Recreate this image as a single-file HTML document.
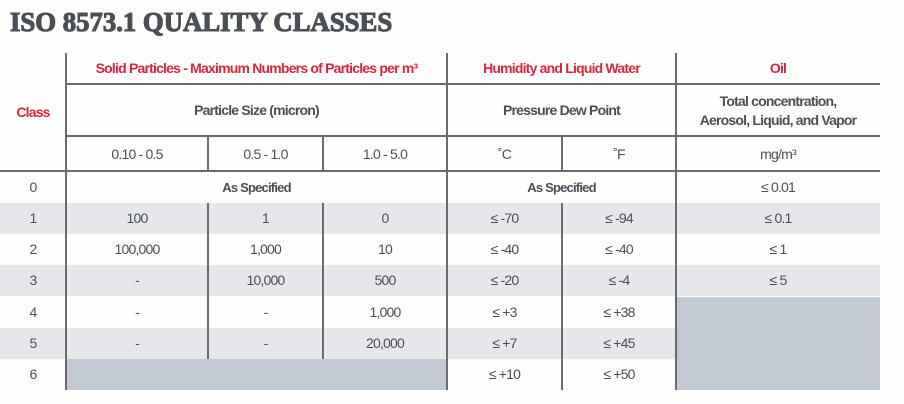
<!DOCTYPE html>
<html><head><style>
body{margin:0;width:904px;height:404px;background:#fdfdfc;position:relative;overflow:hidden;font-family:"Liberation Sans",sans-serif;color:#4a4f57}
.t{position:absolute;left:10px;top:7px;font-family:"Liberation Serif",serif;font-weight:900;font-size:27px;color:#4a4f55;letter-spacing:0px;transform:scaleX(0.99);transform-origin:left;-webkit-text-stroke:1.1px #4a4f55}
.r{position:absolute;left:0;width:880px;height:31px;background:#e6e7ea}
.f{position:absolute;background:#c3c9d2}
.v{position:absolute;width:2px;background:#6b6b6b}
.h{position:absolute;height:2px;background:#6b6b6b}
.c{position:absolute;text-align:center;font-size:14px;letter-spacing:-0.8px;display:flex;align-items:center;justify-content:center;line-height:19px}
.b{font-weight:bold}
.red{color:#d7263d;font-weight:bold}
</style></head><body>
<div class="t">ISO 8573.1 QUALITY CLASSES</div>
<div class="r" style="top:203px"></div>
<div class="r" style="top:265px"></div>
<div class="r" style="top:328px"></div>
<div class="f" style="left:66px;top:359px;width:381px;height:31px"></div>
<div class="f" style="left:676px;top:297px;width:204px;height:93px"></div>
<div class="h" style="left:66px;top:83px;width:814px"></div>
<div class="h" style="left:66px;top:135px;width:814px"></div>
<div class="h" style="left:0;top:170px;width:880px"></div>
<div class="v" style="left:65px;top:53px;height:337px"></div>
<div class="v" style="left:446px;top:53px;height:337px"></div>
<div class="v" style="left:675px;top:53px;height:337px"></div>
<div class="v" style="left:207px;top:136px;height:35px"></div>
<div class="v" style="left:322px;top:136px;height:35px"></div>
<div class="v" style="left:561px;top:136px;height:35px"></div>
<div class="v" style="left:207px;top:203px;height:156px"></div>
<div class="v" style="left:322px;top:203px;height:156px"></div>
<div class="v" style="left:561px;top:203px;height:187px"></div>

<div class="c red" style="left:0;top:53px;width:66px;height:118px">Class</div>
<div class="c red" style="left:66px;top:53px;width:381px;height:31px">Solid Particles - Maximum Numbers of Particles per m³</div>
<div class="c red" style="left:447px;top:53px;width:229px;height:31px">Humidity and Liquid Water</div>
<div class="c red" style="left:676px;top:53px;width:204px;height:31px">Oil</div>
<div class="c b" style="left:66px;top:85px;width:381px;height:51px">Particle Size (micron)</div>
<div class="c b" style="left:447px;top:85px;width:229px;height:51px">Pressure Dew Point</div>
<div class="c b" style="left:676px;top:85px;width:204px;height:51px">Total concentration,<br>Aerosol, Liquid, and Vapor</div>
<div class="c" style="left:66px;top:137px;width:142px;height:34px">0.10 - 0.5</div>
<div class="c" style="left:208px;top:137px;width:115px;height:34px">0.5 - 1.0</div>
<div class="c" style="left:323px;top:137px;width:124px;height:34px">1.0 - 5.0</div>
<div class="c" style="left:447px;top:137px;width:115px;height:34px">˚C</div>
<div class="c" style="left:562px;top:137px;width:114px;height:34px">˚F</div>
<div class="c" style="left:676px;top:137px;width:204px;height:34px">mg/m³</div>

<div class="c" style="left:0;top:172px;width:66px;height:31px">0</div>
<div class="c b" style="left:66px;top:172px;width:381px;height:31px;font-size:13px">As Specified</div>
<div class="c b" style="left:447px;top:172px;width:229px;height:31px;font-size:13px">As Specified</div>
<div class="c" style="left:676px;top:172px;width:204px;height:31px">≤ 0.01</div>

<div class="c" style="left:0;top:203px;width:66px;height:31px">1</div>
<div class="c" style="left:66px;top:203px;width:142px;height:31px">100</div>
<div class="c" style="left:208px;top:203px;width:115px;height:31px">1</div>
<div class="c" style="left:323px;top:203px;width:124px;height:31px">0</div>
<div class="c" style="left:447px;top:203px;width:115px;height:31px">≤ -70</div>
<div class="c" style="left:562px;top:203px;width:114px;height:31px">≤ -94</div>
<div class="c" style="left:676px;top:203px;width:204px;height:31px">≤ 0.1</div>

<div class="c" style="left:0;top:234px;width:66px;height:31px">2</div>
<div class="c" style="left:66px;top:234px;width:142px;height:31px">100,000</div>
<div class="c" style="left:208px;top:234px;width:115px;height:31px">1,000</div>
<div class="c" style="left:323px;top:234px;width:124px;height:31px">10</div>
<div class="c" style="left:447px;top:234px;width:115px;height:31px">≤ -40</div>
<div class="c" style="left:562px;top:234px;width:114px;height:31px">≤ -40</div>
<div class="c" style="left:676px;top:234px;width:204px;height:31px">≤ 1</div>

<div class="c" style="left:0;top:265px;width:66px;height:31px">3</div>
<div class="c" style="left:66px;top:265px;width:142px;height:31px">-</div>
<div class="c" style="left:208px;top:265px;width:115px;height:31px">10,000</div>
<div class="c" style="left:323px;top:265px;width:124px;height:31px">500</div>
<div class="c" style="left:447px;top:265px;width:115px;height:31px">≤ -20</div>
<div class="c" style="left:562px;top:265px;width:114px;height:31px">≤ -4</div>
<div class="c" style="left:676px;top:265px;width:204px;height:31px">≤ 5</div>

<div class="c" style="left:0;top:297px;width:66px;height:31px">4</div>
<div class="c" style="left:66px;top:297px;width:142px;height:31px">-</div>
<div class="c" style="left:208px;top:297px;width:115px;height:31px">-</div>
<div class="c" style="left:323px;top:297px;width:124px;height:31px">1,000</div>
<div class="c" style="left:447px;top:297px;width:115px;height:31px">≤ +3</div>
<div class="c" style="left:562px;top:297px;width:114px;height:31px">≤ +38</div>

<div class="c" style="left:0;top:328px;width:66px;height:31px">5</div>
<div class="c" style="left:66px;top:328px;width:142px;height:31px">-</div>
<div class="c" style="left:208px;top:328px;width:115px;height:31px">-</div>
<div class="c" style="left:323px;top:328px;width:124px;height:31px">20,000</div>
<div class="c" style="left:447px;top:328px;width:115px;height:31px">≤ +7</div>
<div class="c" style="left:562px;top:328px;width:114px;height:31px">≤ +45</div>

<div class="c" style="left:0;top:359px;width:66px;height:31px">6</div>
<div class="c" style="left:447px;top:359px;width:115px;height:31px">≤ +10</div>
<div class="c" style="left:562px;top:359px;width:114px;height:31px">≤ +50</div>
</body></html>
